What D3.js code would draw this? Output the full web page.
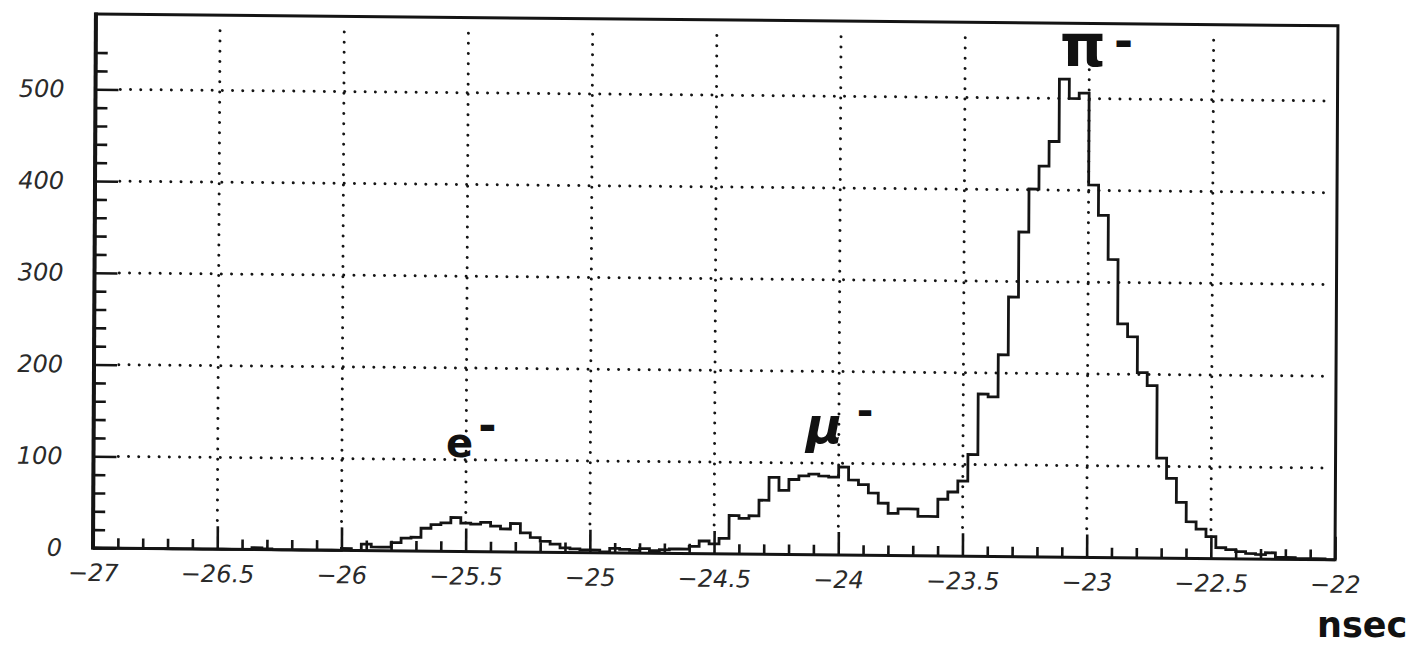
<!DOCTYPE html>
<html>
<head>
<meta charset="utf-8">
<script src="https://cdn.jsdelivr.net/npm/d3@7"></script>
<style>
  body { margin: 0; background: #fff; }
  svg { display: block; }
</style>
</head>
<body>
<svg id="chart" width="1415" height="646"></svg>
<script>
// Time-of-flight histogram: 125 bins of 0.04 ns from -27 to -22 ns
const binStart = -27;
const binWidth = 0.04;
const counts = [
  // -27.00 .. -26.04
  0, 0, 0, 0, 0, 0, 0, 0, 0, 0, 0, 0, 0, 0, 0, 0, 2, 1, 0, 0, 0, 0, 0, 0, 0,
  // -26.00 .. -25.04
  2, 0, 7, 4, 4, 9, 14, 15, 25, 29, 31, 37, 31, 30, 32, 28, 25, 31, 21, 16, 12, 9, 5, 4, 3,
  // -25.00 .. -24.04
  3, 1, 5, 4, 3, 5, 3, 4, 5, 5, 8, 14, 11, 17, 42, 39, 42, 59, 84, 70, 82, 86, 88, 86, 85,
  // -24.00 .. -23.04
  96, 82, 77, 68, 57, 46, 51, 51, 43, 43, 62, 70, 82, 111, 177, 174, 220, 283, 354, 401, 426, 453, 521, 500, 506,
  // -23.00 .. -22.04
  406, 373, 325, 255, 241, 202, 188, 109, 87, 61, 40, 32, 24, 12, 10, 8, 6, 5, 7, 2, 2, 1, 1, 1, 0
];

const xDomain = [-27, -22];
const yDomain = [0, 582];
const xMajorTicks = [-27, -26.5, -26, -25.5, -25, -24.5, -24, -23.5, -23, -22.5, -22];
const xTickLabels = ["\u221227", "\u221226.5", "\u221226", "\u221225.5", "\u221225", "\u221224.5",
                     "\u221224", "\u221223.5", "\u221223", "\u221222.5", "\u221222"];
const yMajorTicks = [0, 100, 200, 300, 400, 500];
const yTickLabels = ["0", "100", "200", "300", "400", "500"];
const xGridValues = [-26.5, -26, -25.5, -25, -24.5, -24, -23.5, -23, -22.5];
const yGridValues = [100, 200, 300, 400, 500];
const xUnit = "nsec";

// particle labels written near each peak
const peakNames = ["e", "\u03bc", "\u03c0"];
const peakCharges = ["-", "-", "-"];

const svg = d3.select("#chart");
svg.append("rect").attr("width", 1415).attr("height", 646).attr("fill", "#fff");

const x = d3.scaleLinear().domain(xDomain).range([93, 1335]);
const y = d3.scaleLinear().domain(yDomain).range([548, 14]);

// the plotted sheet sits slightly tilted; pivot at the origin corner
const tiltB = 0.0095, tiltC = -0.0055;
const X0 = x(xDomain[0]), Y0 = y(0);
const g = svg.append("g")
  .attr("transform", `matrix(1,${tiltB},${tiltC},1,${-tiltC * Y0},${-tiltB * X0})`);

const ink = "#141414";
const labelFont = "'DejaVu Sans', 'Liberation Sans', sans-serif";

// dotted grid
const grid = g.append("g").attr("stroke", ink).attr("stroke-width", 3)
  .attr("stroke-linecap", "round").attr("stroke-dasharray", "0 10.2");
grid.selectAll("line.h").data(yGridValues).join("line").attr("class", "h")
  .attr("x1", x(-26.9)).attr("x2", x(-22.03))
  .attr("y1", d => y(d)).attr("y2", d => y(d));
grid.selectAll("line.v").data(xGridValues).join("line").attr("class", "v")
  .attr("x1", d => x(d)).attr("x2", d => x(d))
  .attr("y1", y(565)).attr("y2", y(27));

// histogram outline
const pts = [{ t: binStart, v: 0 }];
counts.forEach((c, i) => pts.push({ t: binStart + i * binWidth, v: c }));
pts.push({ t: binStart + counts.length * binWidth, v: counts[counts.length - 1] });
pts.push({ t: binStart + counts.length * binWidth, v: 0 });
const step = d3.line().x(d => x(d.t)).y(d => y(d.v)).curve(d3.curveStepAfter);
g.append("path").attr("d", step(pts))
  .attr("fill", "none").attr("stroke", ink).attr("stroke-width", 2.8)
  .attr("stroke-linejoin", "miter");

// x axis: minor and major inward ticks
const xMinor = d3.range(1, 50).map(i => -27 + i * 0.1).filter(v => Math.abs(v * 2 - Math.round(v * 2)) > 1e-6);
const xMinorAxis = d3.axisBottom(x).tickValues(xMinor).tickSize(-10).tickFormat("");
const xMajorAxis = d3.axisBottom(x).tickValues(xMajorTicks).tickSize(-23).tickPadding(16)
  .tickFormat((d, i) => xTickLabels[i]);
const gxm = g.append("g").attr("transform", `translate(0,${y(0)})`).call(xMinorAxis);
const gx = g.append("g").attr("transform", `translate(0,${y(0)})`).call(xMajorAxis);

// y axis: minor and major inward ticks
const yMinor = d3.range(20, 560, 20).filter(v => v % 100 !== 0);
const yMinorAxis = d3.axisLeft(y).tickValues(yMinor).tickSize(-12).tickFormat("");
const yMajorAxis = d3.axisLeft(y).tickValues(yMajorTicks).tickSize(-23).tickPadding(31)
  .tickFormat((d, i) => yTickLabels[i]);
const gym = g.append("g").attr("transform", `translate(${x(-27)},0)`).call(yMinorAxis);
const gy = g.append("g").attr("transform", `translate(${x(-27)},0)`).call(yMajorAxis);

[gxm, gx, gym, gy].forEach(a => {
  a.select(".domain").remove();
  a.selectAll(".tick line").attr("stroke", ink).attr("stroke-width", 2.6);
  a.selectAll("text").attr("fill", "#2a2a2a").attr("font-family", labelFont)
    .attr("font-style", "italic").attr("font-weight", "normal").attr("font-size", 24);
});
gx.selectAll("text").attr("dy", "0.71em");

// frame
g.append("rect")
  .attr("x", x(-27)).attr("y", y(yDomain[1]))
  .attr("width", x(-22) - x(-27)).attr("height", y(0) - y(yDomain[1]))
  .attr("fill", "none").attr("stroke", ink).attr("stroke-width", 3);
g.append("line").attr("x1", x(-27)).attr("x2", x(-27))
  .attr("y1", y(yDomain[1]) - 1.5).attr("y2", y(0) + 1.5)
  .attr("stroke", ink).attr("stroke-width", 4);

// handwritten-style peak names
const notes = svg.append("g").attr("fill", "#111").attr("font-family", labelFont).attr("font-weight", "bold");
const notePos = [
  { x: 446, y: 457, size: 40, dashSize: 44, dx: 5, dy: -16, italic: false },
  { x: 806, y: 443, size: 50, dashSize: 40, dx: 14, dy: -18, italic: true },
  { x: 1060, y: 66, size: 58, dashSize: 46, dx: 8, dy: -9, italic: false }
];
peakNames.forEach((name, i) => {
  const p = notePos[i];
  const t = notes.append("text").attr("x", p.x).attr("y", p.y).attr("font-size", p.size)
    .attr("font-style", p.italic ? "italic" : "normal");
  t.append("tspan").text(name);
  t.append("tspan").attr("dx", p.dx).attr("dy", p.dy).attr("font-size", p.dashSize)
    .attr("font-style", "normal").text(peakCharges[i]);
});

// axis unit
svg.append("text").attr("x", 1317).attr("y", 637)
  .attr("font-family", labelFont).attr("font-weight", "bold").attr("font-size", 35)
  .attr("fill", "#111").text(xUnit);
</script>
</body>
</html>
